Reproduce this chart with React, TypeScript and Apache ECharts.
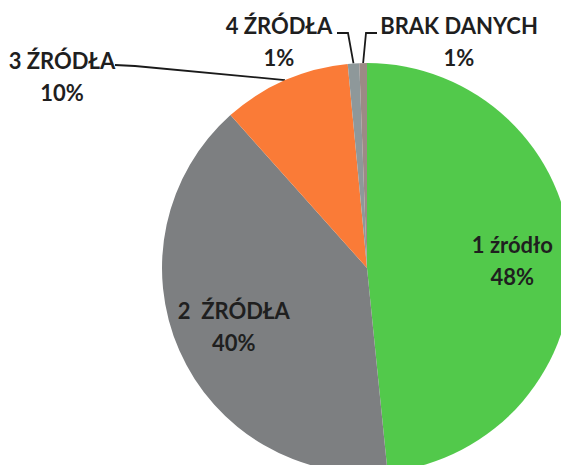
import React, { useEffect, useRef } from 'react';
import * as echarts from 'echarts';

// Data
const categories = ['1 źródło', '2  ŹRÓDŁA', '3 ŹRÓDŁA', '4 ŹRÓDŁA', 'BRAK DANYCH'];
const shares = [48.4, 40.0, 10.1, 0.9, 0.6];
const sliceColors = ['#52c94b', '#7d7f81', '#fa7b37', '#8e989a', '#9c8a85'];
const insideIdx = [0, 1];

// Layout / styles
const CX = 367;
const CY = 268;
const R = 205;
const INNER_LABEL_RATIO = 0.71;
const outsideLabelPlacement: Record<number, { x: number; y: number; elbow: number[]; end: number[] }> = {
  2: { x: 62, y: 76, elbow: [135, 66], end: [115, 65] },
  3: { x: 279, y: 41, elbow: [348, 33], end: [337, 33] },
  4: { x: 459, y: 41, elbow: [366, 33], end: [377, 33] },
};

const total = shares.reduce((a, b) => a + b, 0);
function midAngle(i: number): number {
  let before = 0;
  for (let k = 0; k < i; k++) before += shares[k];
  const mid = (before + shares[i] / 2) / total;
  return mid * Math.PI * 2;
}
function pointAt(i: number, rho: number): number[] {
  const t = midAngle(i);
  return [CX + rho * Math.sin(t), CY - rho * Math.cos(t)];
}

export default function App() {
  const ref = useRef<HTMLDivElement>(null);
  useEffect(() => {
    if (!ref.current) return;
    const chart = echarts.init(ref.current, undefined, { renderer: 'svg' });
    const labelText = {
      fontFamily: 'Lato',
      fontWeight: 'bold' as const,
      fontSize: 22,
      lineHeight: 32,
      color: '#1f1f1f',
    };
    chart.setOption({
      animation: false,
      backgroundColor: '#ffffff',
      series: [
        {
          type: 'pie',
          center: [CX, CY],
          radius: R,
          startAngle: 90,
          clockwise: true,
          avoidLabelOverlap: false,
          silent: true,
          itemStyle: { borderWidth: 0 },
          label: {
            show: true,
            ...labelText,
            align: 'center',
            formatter: (p: any) => `${p.name}\n${Math.round(p.percent)}%`,
          },
          labelLine: {
            show: true,
            lineStyle: { color: '#1a1a1a', width: 1.8 },
          },
          labelLayout: (params: any) => {
            const i = params.dataIndex;
            if (insideIdx.includes(i)) {
              const [x, y] = pointAt(i, R * INNER_LABEL_RATIO);
              return { x, y, align: 'center', verticalAlign: 'middle' };
            }
            const pl = outsideLabelPlacement[i];
            if (!pl) return {};
            const edge = pointAt(i, R);
            return {
              x: pl.x,
              y: pl.y,
              align: 'center',
              verticalAlign: 'middle',
              labelLinePoints: [edge, pl.elbow, pl.end],
            };
          },
          data: categories.map((name, i) => ({
            name,
            value: shares[i],
            itemStyle: { color: sliceColors[i] },
            label: { position: insideIdx.includes(i) ? 'inside' : 'outside' },
            labelLine: { show: !insideIdx.includes(i) },
          })),
        },
      ],
    });
    return () => chart.dispose();
  }, []);
  return (
    <div
      ref={ref}
      style={{ position: 'fixed', left: 0, top: 0, width: 561, height: 465 }}
    />
  );
}
